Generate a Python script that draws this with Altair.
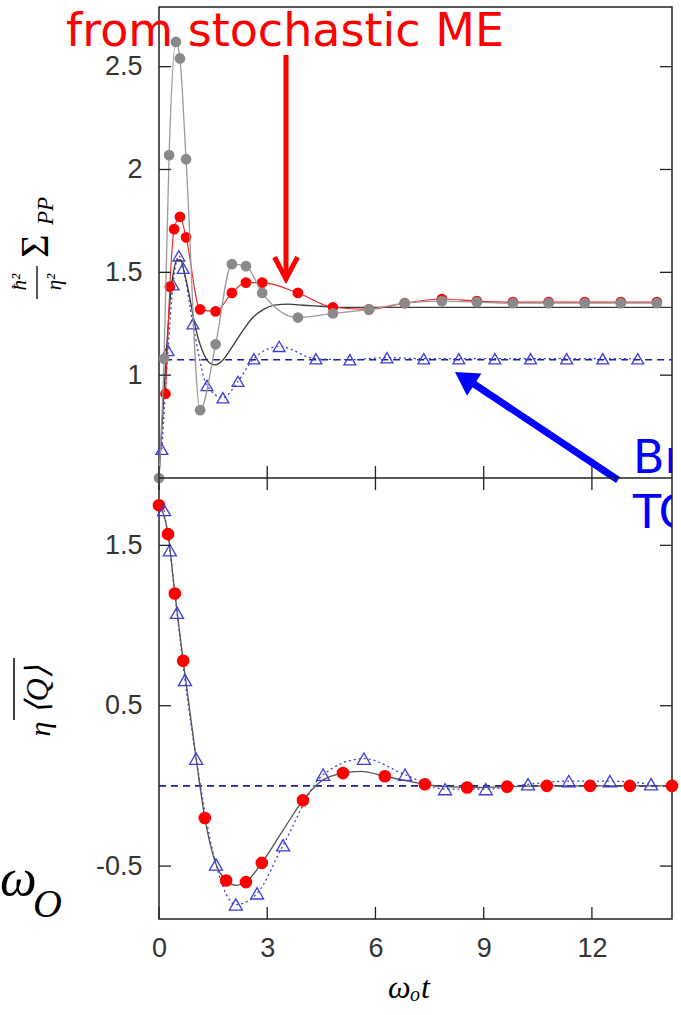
import altair as alt
import pandas as pd

# ---------------- data ----------------
x_ticks = [0, 3, 6, 9, 12]
top_ticks = [1, 1.5, 2, 2.5]
bot_ticks = [1.5, 0.5, -0.5]
X_MAX = 14.22

# upper panel: (hbar^2/eta^2) Sigma_PP
gray_t = [0.0, 0.14, 0.28, 0.47, 0.58, 0.75, 1.14, 1.57, 2.02, 2.41, 2.86, 3.85,
          4.82, 5.82, 6.81, 7.84, 8.81, 9.81, 10.80, 11.80, 12.80, 13.80]
gray_y = [0.50, 1.08, 2.07, 2.62, 2.54, 2.05, 0.83, 1.15, 1.54, 1.53, 1.40, 1.28,
          1.30, 1.32, 1.35, 1.36, 1.355, 1.35, 1.35, 1.35, 1.35, 1.35]

red_t = [0.18, 0.30, 0.42, 0.58, 0.75, 1.14, 1.57, 2.02, 2.41, 2.86, 3.85,
         4.82, 5.82, 6.81, 7.84, 8.81, 9.81, 10.80, 11.80, 12.80, 13.80]
red_y = [0.91, 1.43, 1.71, 1.77, 1.67, 1.32, 1.31, 1.40, 1.45, 1.45, 1.40,
         1.33, 1.32, 1.35, 1.37, 1.36, 1.355, 1.355, 1.355, 1.355, 1.355]

black_t = [0.0, 0.1, 0.2, 0.3, 0.4, 0.5, 0.6, 0.7, 0.85, 1.0, 1.2, 1.4, 1.55, 1.75,
           2.0, 2.3, 2.6, 2.9, 3.2, 3.6, 4.0, 4.5, 5.0, 6.0, 8.0, 10.0, 12.0, 14.22]
black_y = [0.50, 0.80, 1.10, 1.35, 1.50, 1.56, 1.56, 1.50, 1.38, 1.24, 1.12, 1.06, 1.05, 1.07,
           1.13, 1.21, 1.28, 1.32, 1.34, 1.345, 1.34, 1.335, 1.33, 1.33, 1.33, 1.33, 1.33, 1.33]

tri_t = [0.08, 0.25, 0.39, 0.55, 0.67, 0.94, 1.33, 1.77, 2.19, 2.63, 3.33, 4.35,
         5.29, 6.32, 7.34, 8.31, 9.31, 10.30, 11.30, 12.30, 13.27]
tri_y = [0.64, 1.12, 1.44, 1.58, 1.52, 1.25, 0.95, 0.89, 0.97, 1.08, 1.14, 1.08,
         1.075, 1.085, 1.08, 1.08, 1.08, 1.08, 1.08, 1.08, 1.08]

tcl_top_t = [0.17, 14.22]
tcl_top_y = [1.075, 1.075]

# lower panel: eta <Q> (overlined)
qred_t = [0.0, 0.25, 0.44, 0.67, 1.27, 1.86, 2.41, 2.85, 3.99, 5.10, 6.26, 7.37,
          8.54, 9.65, 10.75, 11.95, 13.05, 14.22]
qred_y = [1.75, 1.57, 1.20, 0.78, -0.20, -0.59, -0.60, -0.48, -0.09, 0.08, 0.06, 0.01,
          -0.01, -0.005, 0.0, 0.0, 0.0, 0.0]

qline_t = [0.0, 0.25, 0.44, 0.67, 1.0, 1.27, 1.55, 1.86, 2.15, 2.41, 2.85, 3.4, 3.99,
           4.5, 5.1, 5.6, 6.26, 6.9, 7.37, 8.0, 8.54, 9.65, 10.75, 11.95, 13.05, 14.22]
qline_y = [1.75, 1.57, 1.20, 0.78, 0.22, -0.20, -0.47, -0.59, -0.62, -0.60, -0.48, -0.29, -0.09,
           0.03, 0.08, 0.09, 0.06, 0.03, 0.01, -0.005, -0.01, -0.005, 0.0, 0.0, 0.0, 0.0]

qtri_t = [0.14, 0.30, 0.50, 0.72, 1.03, 1.58, 2.13, 2.72, 3.44, 4.55, 5.68, 6.82,
          7.93, 9.06, 10.23, 11.36, 12.50, 13.64]
qtri_y = [1.72, 1.47, 1.08, 0.66, 0.17, -0.49, -0.74, -0.67, -0.37, 0.07, 0.17, 0.07,
          -0.02, -0.02, 0.01, 0.03, 0.03, 0.01]

tcl_bot_t = [0.0, 14.22]
tcl_bot_y = [0.0, 0.0]

# ---------------- layout / style ----------------
W = 513
H1 = 471          # upper panel height (pixels)
H2 = 441          # lower panel height (pixels)
H = H1 + H2
B = H1            # y offset of lower panel
TICK = 12
FRAME = "#222222"
NAVY = "#1f1f99"
TRI = "#3c3cd8"
SANS = "Liberation Sans"
SERIF = "Liberation Serif"
HAND = "DejaVu Sans"


def df(t, v):
    return pd.DataFrame({"t": t, "v": v})


ann = pd.DataFrame({"k": [0]})

xs = alt.Scale(domain=[0, X_MAX], nice=False, zero=False)
ys1 = alt.Scale(domain=[0.5, 2.79], range=[H1, 0], nice=False, zero=False)
ys2 = alt.Scale(domain=[-0.83, 1.92], range=[H, H1], nice=False, zero=False)

ax_y1 = alt.Axis(values=top_ticks, format="~g", ticks=False, domain=False, grid=False,
                 title=None, orient="left", labelFont=SANS, labelFontSize=27,
                 labelColor="#333", labelPadding=17, labelFlush=False, labelOverlap=False)
ax_y2 = alt.Axis(values=bot_ticks,
                 labelExpr="datum.value < 0 ? '-' + format(-datum.value, '.1f') : format(datum.value, '.1f')",
                 ticks=False, domain=False, grid=False, title=None, orient="left",
                 labelFont=SANS, labelFontSize=27, labelColor="#333", labelPadding=17,
                 labelFlush=False, labelOverlap=False)
ax_x = alt.Axis(values=x_ticks, ticks=False, domain=False, grid=False, title=None,
                orient="bottom", labelFont=SANS, labelFontSize=27, labelColor="#333",
                labelPadding=16, labelFlush=False, labelOverlap=False)


def X():
    return alt.X("t:Q", scale=xs, axis=ax_x)


def Y1():
    return alt.Y("v:Q", scale=ys1, axis=ax_y1)


def Y2():
    return alt.Y("v:Q", scale=ys2, axis=ax_y2)


def text(s, x, y, size, color="black", font=SERIF, style="normal", align="center",
         baseline="middle", angle=0, clip=False):
    kw = dict(text=s, font=font, fontSize=size, color=color, fontStyle=style,
              align=align, baseline=baseline, angle=angle)
    if clip:
        kw["clip"] = True
    return alt.Chart(ann).mark_text(**kw).encode(x=alt.value(x), y=alt.value(y))


def rule(x, y, x2=None, y2=None, color=FRAME, width=1.3):
    enc = dict(x=alt.value(x), y=alt.value(y))
    if x2 is not None:
        enc["x2"] = alt.value(x2)
    if y2 is not None:
        enc["y2"] = alt.value(y2)
    return alt.Chart(ann).mark_rule(color=color, strokeWidth=width).encode(**enc)


# ---------------- upper panel ----------------
top_layers = [
    alt.Chart(df(tcl_top_t, tcl_top_y)).mark_line(color=NAVY, strokeDash=[7, 5], strokeWidth=1.6)
    .encode(x=X(), y=Y1()),
    alt.Chart(df(tri_t, tri_y)).mark_line(color=TRI, strokeDash=[2, 3], strokeWidth=1.3,
                                          interpolate="monotone")
    .encode(x=X(), y=Y1()),
    alt.Chart(df(tri_t, tri_y)).mark_point(shape="triangle-up", filled=False, size=140,
                                           color=TRI, strokeWidth=1.3, opacity=1)
    .encode(x=X(), y=Y1()),
    alt.Chart(df(black_t, black_y)).mark_line(color="#3a3a3a", strokeWidth=1.3,
                                              interpolate="monotone")
    .encode(x=X(), y=Y1()),
    alt.Chart(df(red_t, red_y)).mark_line(color="#ee2222", strokeWidth=1.1,
                                          interpolate="monotone")
    .encode(x=X(), y=Y1()),
    alt.Chart(df(red_t, red_y)).mark_circle(color="#ff0000", size=115, opacity=1)
    .encode(x=X(), y=Y1()),
    alt.Chart(df(gray_t, gray_y)).mark_line(color="#9a9a9a", strokeWidth=1.3,
                                            interpolate="monotone")
    .encode(x=X(), y=Y1()),
    alt.Chart(df(gray_t, gray_y)).mark_circle(color="#8a8a8a", size=115, opacity=1)
    .encode(x=X(), y=Y1()),
    # inward ticks
    alt.Chart(pd.DataFrame({"v": top_ticks})).mark_rule(color=FRAME, strokeWidth=1.3)
    .encode(y=Y1(), x=alt.value(0), x2=alt.value(TICK)),
    alt.Chart(pd.DataFrame({"v": top_ticks})).mark_rule(color=FRAME, strokeWidth=1.3)
    .encode(y=Y1(), x=alt.value(W - TICK), x2=alt.value(W)),
    alt.Chart(pd.DataFrame({"t": x_ticks})).mark_rule(color=FRAME, strokeWidth=1.3)
    .encode(x=X(), y=alt.value(H1 - TICK), y2=alt.value(H1)),
    # y title: hbar^2 / eta^2  Sigma_PP
    text("ħ²", -139, 275, 21, style="italic", angle=270),
    rule(-122, 259, y2=292, color="black", width=1.3),
    text("η²", -104, 275, 21, style="italic", angle=270),
    text("Σ", -123, 239, 40, angle=270),
    text("PP", -113, 204, 23, style="italic", angle=270),
    # annotations
    text("from stochastic ME", 126, 39, 46, color="#ff0000", font=HAND, baseline="alphabetic"),
    rule(127, 48, y2=270, color="#ff0000", width=5),
    alt.Chart(ann).mark_point(shape="M-1,-1.9L0,0L1,-1.9", size=529, filled=False,
                              color="#ff0000", strokeWidth=5, opacity=1,
                              strokeJoin="miter", strokeCap="butt")
    .encode(x=alt.value(127), y=alt.value(272)),
    rule(459, 473, x2=306, y2=371, color="#0000ff", width=7),
    alt.Chart(ann).mark_point(shape="triangle-up", size=700, filled=True, color="#0000ff",
                              angle=303, opacity=1)
    .encode(x=alt.value(305.6), y=alt.value(371.3)),
    text("Br", 474, 466, 46, color="#0000ff", font=HAND, align="left",
         baseline="alphabetic", clip=True),
]
top = alt.layer(*top_layers)

# ---------------- lower panel ----------------
bot_layers = [
    alt.Chart(df(tcl_bot_t, tcl_bot_y)).mark_line(color=NAVY, strokeDash=[7, 5], strokeWidth=1.6)
    .encode(x=X(), y=Y2()),
    alt.Chart(df(qtri_t, qtri_y)).mark_line(color=TRI, strokeDash=[2, 3], strokeWidth=1.3,
                                            interpolate="monotone")
    .encode(x=X(), y=Y2()),
    alt.Chart(df(qline_t, qline_y)).mark_line(color="#555555", strokeWidth=1.3,
                                              interpolate="monotone")
    .encode(x=X(), y=Y2()),
    alt.Chart(df(qred_t, qred_y)).mark_circle(color="#ff0000", size=160, opacity=1)
    .encode(x=X(), y=Y2()),
    alt.Chart(df(qtri_t, qtri_y)).mark_point(shape="triangle-up", filled=False, size=170,
                                             color=TRI, strokeWidth=1.3, opacity=1)
    .encode(x=X(), y=Y2()),
    # inward ticks
    alt.Chart(pd.DataFrame({"v": bot_ticks})).mark_rule(color=FRAME, strokeWidth=1.3)
    .encode(y=Y2(), x=alt.value(0), x2=alt.value(TICK)),
    alt.Chart(pd.DataFrame({"v": bot_ticks})).mark_rule(color=FRAME, strokeWidth=1.3)
    .encode(y=Y2(), x=alt.value(W - TICK), x2=alt.value(W)),
    alt.Chart(pd.DataFrame({"t": x_ticks})).mark_rule(color=FRAME, strokeWidth=1.3)
    .encode(x=X(), y=alt.value(H - TICK), y2=alt.value(H)),
    alt.Chart(pd.DataFrame({"t": x_ticks})).mark_rule(color=FRAME, strokeWidth=1.3)
    .encode(x=X(), y=alt.value(B), y2=alt.value(B + TICK)),
    # panel separator
    rule(0, B, x2=W, color=FRAME, width=1.5),
    # y title: eta <Q> with overline
    rule(-145, B + 180, y2=B + 242, color="black", width=1.5),
    text("⟨Q⟩", -121, B + 212, 32, style="italic", angle=270),
    text("η", -118, B + 251, 30, style="italic", angle=270),
    # x title: omega_o t
    text("ω", 229, B + 520, 32, style="italic", align="left", baseline="alphabetic"),
    text("o", 251, B + 523, 20, style="italic", align="left", baseline="alphabetic"),
    text("t", 262, B + 520, 32, style="italic", align="left", baseline="alphabetic"),
    # left margin symbol
    text("ω", -159, B + 417, 52, style="italic", align="left", baseline="alphabetic"),
    text("O", -126, B + 439, 40, style="italic", align="left", baseline="alphabetic"),
    text("TC", 474, B + 50, 46, color="#0000ff", font=HAND, align="left",
         baseline="alphabetic", clip=True),
]
bottom = alt.layer(*bot_layers)

chart = (
    alt.layer(top, bottom)
    .resolve_scale(y="independent")
    .resolve_axis(y="independent")
    .properties(width=W, height=H,
                padding={"left": 0, "top": 7, "right": 0, "bottom": 0},
                background="white")
    .configure_view(stroke=FRAME, strokeWidth=1.5)
)

chart.save("out.html", embed_options={"renderer": "svg", "actions": False})
